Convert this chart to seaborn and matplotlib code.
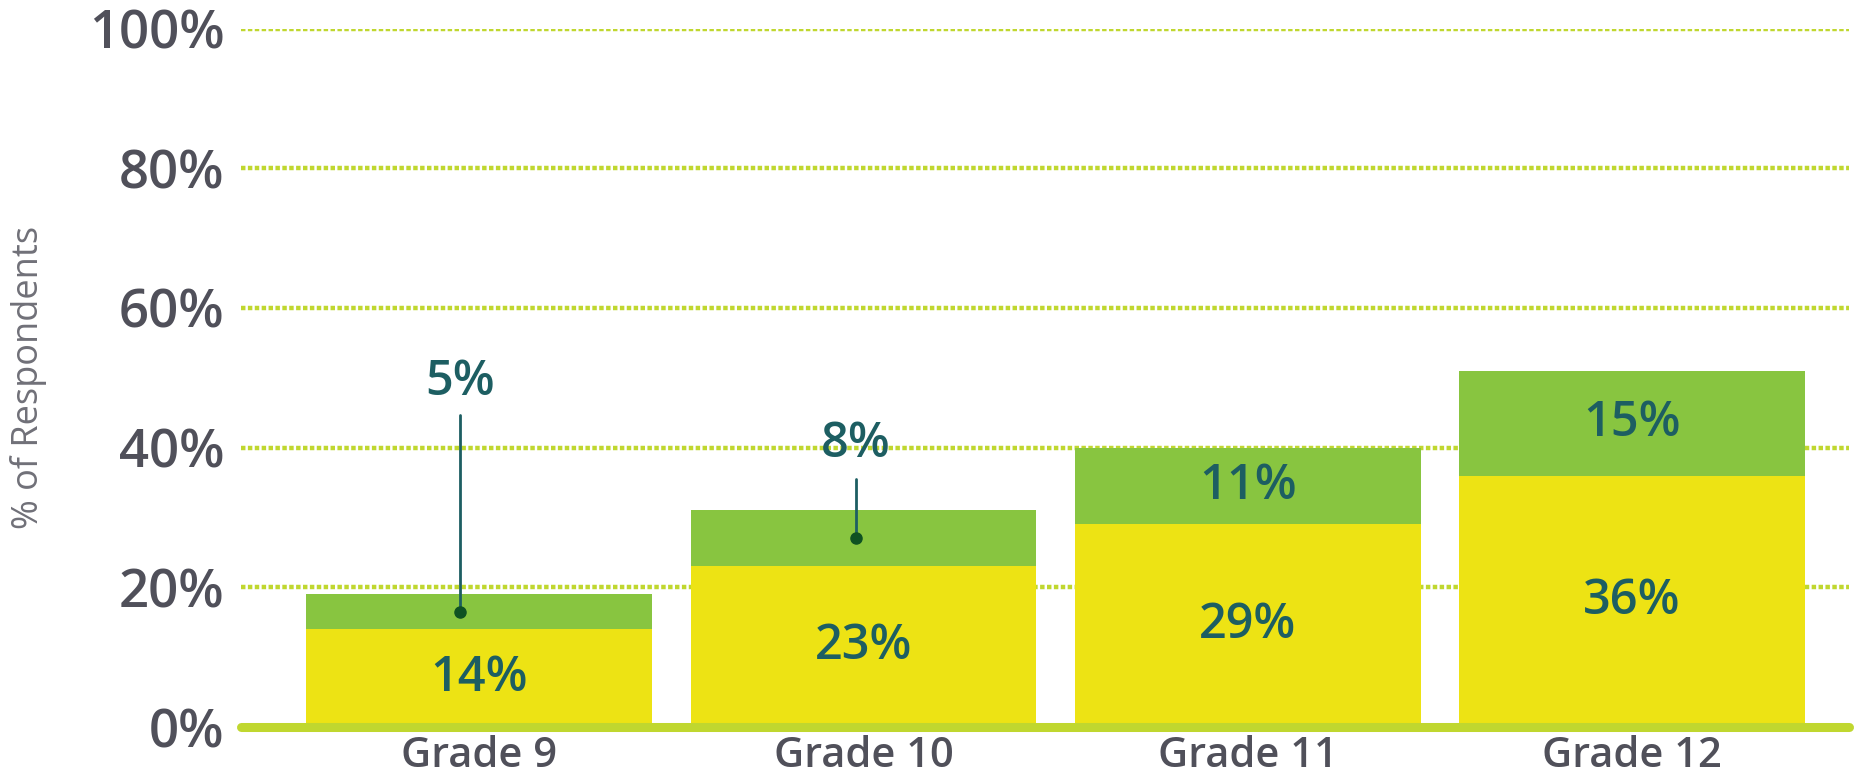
import matplotlib
matplotlib.use("Agg")
import matplotlib.pyplot as plt
import numpy as np
import pandas as pd
import seaborn as sns

# values
grades = ["Grade 9", "Grade 10", "Grade 11", "Grade 12"]
base_pct = [14, 23, 29, 36]     # yellow segment
extra_pct = [5, 8, 11, 15]      # green segment on top
yticks = [0, 20, 40, 60, 80, 100]

# small segments get a callout above the bar instead of an inside label
callout = [True, True, False, False]
callout_text_y = [49.3, 40.5]
callout_top_y = [44.7, 35.5]

df = pd.DataFrame({"grade": grades, "base": base_pct, "extra": extra_pct})
df["total"] = df["base"] + df["extra"]

sns.set_style("white")
plt.rcParams["font.family"] = ["Open Sans", "DejaVu Sans"]

yellow = "#EDE314"
green = "#88C540"
lime = "#C0D72F"
teal = "#1D5E62"
gray = "#50505A"

fig, ax = plt.subplots(figsize=(18.62, 7.79), dpi=100)
fig.subplots_adjust(left=241/1862, right=1849/1862, bottom=1-727/779, top=1-28.5/779)

sns.barplot(data=df, x="grade", y="total", color=green, width=0.9, ax=ax,
            saturation=1, linewidth=0, zorder=2)
sns.barplot(data=df, x="grade", y="base", color=yellow, width=0.9, ax=ax,
            saturation=1, linewidth=0, zorder=3)

ax.set_ylim(0, 100)
ax.set_xlim(-0.62, 3.565)
ax.set_yticks(yticks)
ax.set_yticklabels([f"{t}%" for t in yticks])

# dotted gridlines behind the bars
for t in yticks[1:]:
    ax.axhline(t, color=lime, lw=3.2, ls=(0, (1, 0.55)), zorder=1)
ax.axhline(0, color=lime, lw=6.5, zorder=4, clip_on=False)

lab_kw = dict(ha="center", va="center", fontsize=35, color=teal,
              fontweight="semibold", zorder=5)
for i, row in df.iterrows():
    ax.text(i, row["base"] / 2, f"{row['base']}%", **lab_kw)

k = 0
for i, row in df.iterrows():
    mid = row["base"] + row["extra"] / 2
    if callout[i]:
        xo = i - 0.05 if k == 0 else i - 0.02
        ax.plot([xo, xo], [mid, callout_top_y[k]], color=teal, lw=2, zorder=5)
        ax.plot([xo], [mid], "o", color="#0F5222", ms=8, zorder=6)
        ax.text(xo, callout_text_y[k], f"{row['extra']}%", **lab_kw)
        k += 1
    else:
        ax.text(i, mid, f"{row['extra']}%", **lab_kw)

ax.set_xlabel("")
ax.set_ylabel("% of Respondents", fontsize=26, color="#707078", labelpad=30)
ax.tick_params(axis="y", length=0, pad=12, labelsize=38, labelcolor=gray)
ax.tick_params(axis="x", length=0, pad=6, labelsize=30, labelcolor=gray)
for lab in ax.get_xticklabels():
    lab.set_fontweight("semibold")
for lab in ax.get_yticklabels():
    lab.set_fontweight("semibold")
sns.despine(ax=ax, left=True, bottom=True)

fig.savefig("out.png", dpi=100)
